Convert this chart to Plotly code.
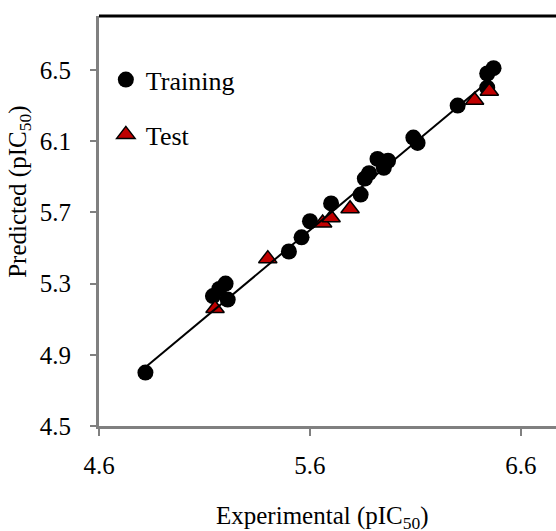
import plotly.graph_objects as go

# Training set (experimental, predicted)
train_exp = [4.82, 5.14, 5.17, 5.20, 5.21, 5.50, 5.56, 5.60, 5.70, 5.84, 5.86,
             5.88, 5.92, 5.97, 5.95, 6.09, 6.11, 6.30, 6.44, 6.44, 6.47]
train_pred = [4.80, 5.23, 5.27, 5.30, 5.21, 5.48, 5.56, 5.65, 5.75, 5.80, 5.89,
              5.92, 6.00, 5.99, 5.95, 6.12, 6.09, 6.30, 6.40, 6.48, 6.51]

# Test set
test_exp = [5.15, 5.40, 5.66, 5.70, 5.79, 6.38, 6.45]
test_pred = [5.16, 5.44, 5.64, 5.67, 5.72, 6.33, 6.38]

# Regression line
line_x = [4.82, 6.47]
line_y = [4.83, 6.46]

x_ticks = [4.6, 5.6, 6.6]
y_ticks = [4.5, 4.9, 5.3, 5.7, 6.1, 6.5]

FONT = "Liberation Serif, Times New Roman, serif"

fig = go.Figure()
fig.add_trace(go.Scatter(
    x=train_exp, y=train_pred, mode="markers", name="Training",
    marker=dict(symbol="circle", size=16, color="black"),
    legendgroup="a"))
fig.add_trace(go.Scatter(
    x=test_exp, y=test_pred, mode="markers", name="Test",
    marker=dict(symbol="triangle-up", size=16, color="#C00000",
                line=dict(color="black", width=1.5)),
    legendgroup="b"))
fig.add_trace(go.Scatter(
    x=line_x, y=line_y, mode="lines", showlegend=False,
    line=dict(color="black", width=2)))

fig.update_layout(
    width=556, height=531,
    margin=dict(l=99, r=0, t=16, b=105),
    plot_bgcolor="white", paper_bgcolor="white",
    font=dict(family=FONT, size=25, color="black"),
    showlegend=True,
    legend=dict(x=0.015, y=0.902, xanchor="left", yanchor="top",
                font=dict(family=FONT, size=26, color="black"),
                bgcolor="rgba(0,0,0,0)", tracegroupgap=18,
                traceorder="grouped"),
    xaxis=dict(range=[4.6, 6.766], tickvals=x_ticks,
               ticktext=[f"{v:.1f}" for v in x_ticks],
               showgrid=False, zeroline=False,
               showline=True, linecolor="#808080", linewidth=3,
               ticks="outside", ticklen=7, tickwidth=2, tickcolor="#808080",
               ticklabelstandoff=8,
               tickfont=dict(family=FONT, size=25)),
    yaxis=dict(range=[4.5, 6.803], tickvals=y_ticks,
               ticktext=[f"{v:.1f}" for v in y_ticks],
               showgrid=False, zeroline=False,
               showline=True, linecolor="#808080", linewidth=3,
               ticks="outside", ticklen=6, tickwidth=2, tickcolor="#808080",
               ticklabelstandoff=14,
               tickfont=dict(family=FONT, size=25)),
    shapes=[dict(type="line", xref="paper", yref="paper", x0=0, x1=1,
                 y0=1, y1=1, line=dict(color="black", width=3))],
    annotations=[
        dict(text="Experimental (pIC<sub>50</sub>)", xref="paper", yref="paper",
             x=0.49, y=-0.222, showarrow=False, xanchor="center",
             yanchor="middle", font=dict(family=FONT, size=25)),
        dict(text="Predicted (pIC<sub>50</sub>)", xref="paper", yref="paper",
             x=-0.173, y=0.571, showarrow=False, textangle=-90,
             xanchor="center", yanchor="middle",
             font=dict(family=FONT, size=25)),
    ],
)

fig.write_html("out.html",
               config={"displayModeBar": False, "staticPlot": True},
               post_script="document.documentElement.style.overflow='hidden';"
                           "document.body.style.margin='0';"
                           "document.body.style.padding='0';"
                           "document.body.style.overflow='hidden';")
